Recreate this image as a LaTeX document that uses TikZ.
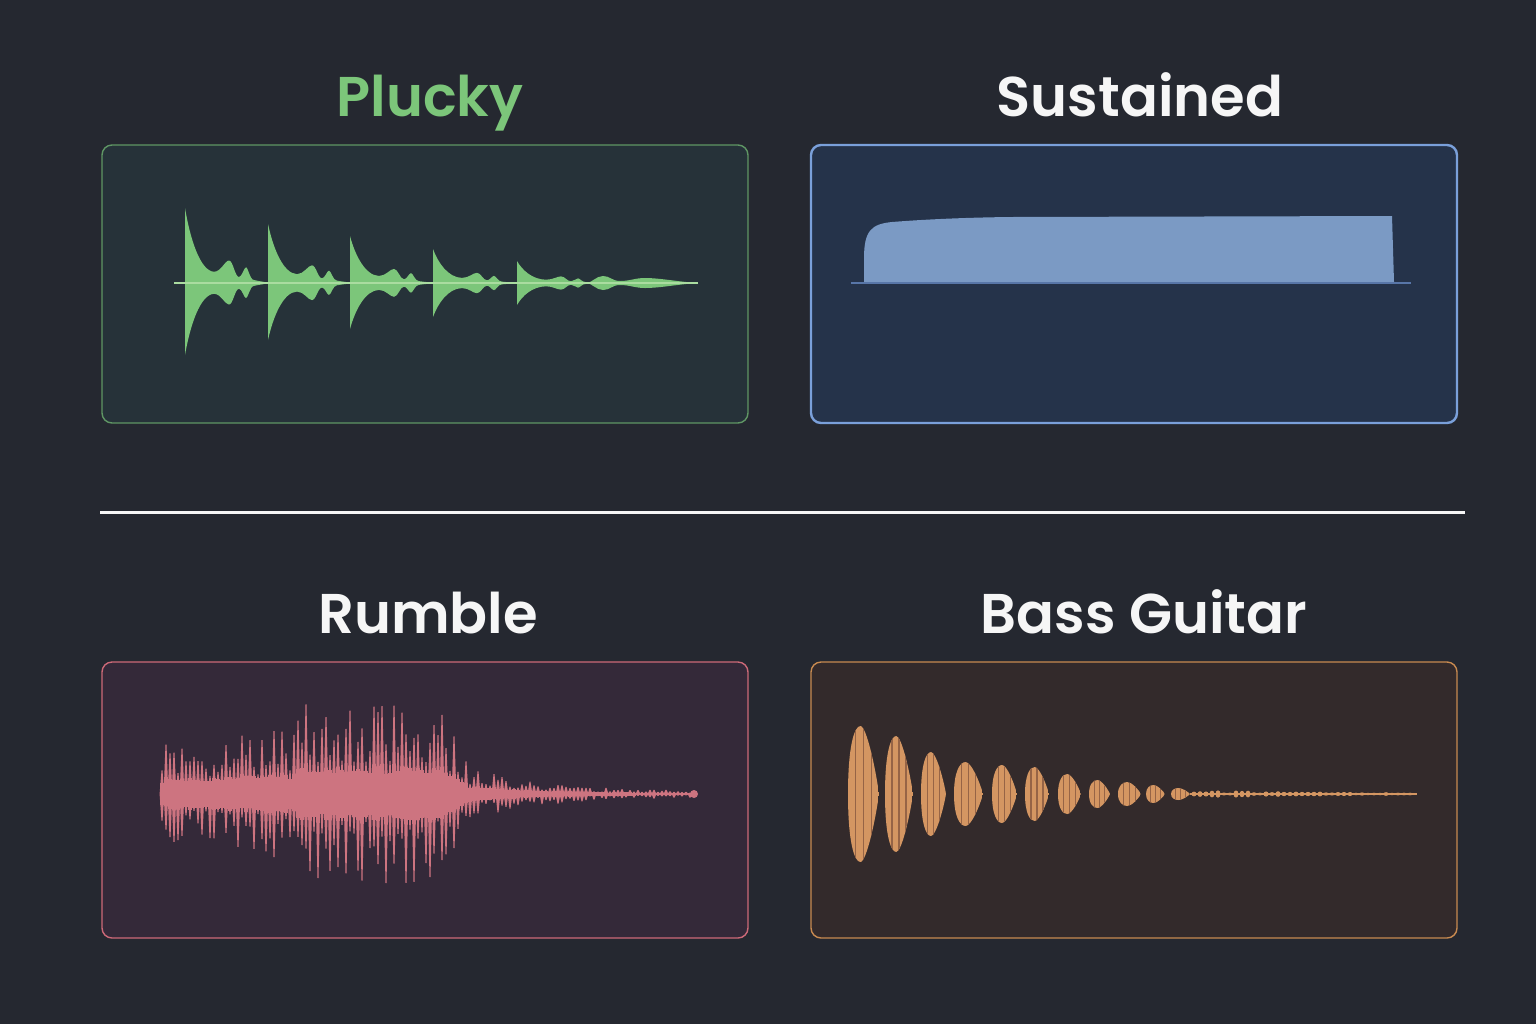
\documentclass[tikz,border=0pt]{standalone}
\usepackage{fontspec}
\setmainfont{Poppins}[BoldFont={Poppins SemiBold}]
\usetikzlibrary{positioning}

\definecolor{bgdark}{RGB}{37,40,48}
\definecolor{titlewhite}{RGB}{246,246,246}
\definecolor{pluckgreen}{RGB}{124,198,122}
\definecolor{pluckline}{RGB}{170,220,160}
\definecolor{pluckpanel}{RGB}{38,50,57}
\definecolor{pluckedge}{RGB}{95,150,100}
\definecolor{sustblue}{RGB}{123,154,196}
\definecolor{sustbase}{RGB}{88,118,168}
\definecolor{sustpanel}{RGB}{37,51,74}
\definecolor{sustedge}{RGB}{122,160,218}
\definecolor{rumblepink}{RGB}{205,116,128}
\definecolor{rumblepanel}{RGB}{52,41,57}
\definecolor{rumbleedge}{RGB}{205,105,120}
\definecolor{bassorange}{RGB}{212,150,98}
\definecolor{bassstripe}{RGB}{150,100,70}
\definecolor{basspanel}{RGB}{51,42,43}
\definecolor{bassedge}{RGB}{200,138,80}

\tikzset{
  panel/.style={rounded corners=5pt, line width=0.7pt},
  title/.style={font=\fontsize{28}{34}\selectfont\bfseries, text=titlewhite, anchor=base},
}

% one decaying pluck, upper half, height 1
\def\pluckshape{(0,0) -- (0,-1) .. controls (5,-0.6) and (15,-0.16) .. (29,-0.15)
  .. controls (36,-0.15) and (40,-0.3) .. (44,-0.3) .. controls (48,-0.3) and (50,-0.08) .. (54,-0.08)
  .. controls (57,-0.08) and (59,-0.21) .. (61,-0.21) .. controls (63,-0.21) and (65,-0.04) .. (69,-0.04)
  .. controls (75,-0.02) and (79,-0.02) .. (83,0) -- cycle}
\def\plucktail{(0,0) .. controls (6,0) and (10,-7) .. (17,-7) .. controls (24,-7) and (26,-2) .. (34,-2)
  .. controls (44,-2) and (49,-5) .. (59,-5) .. controls (74,-5) and (94,-1) .. (112,0) -- cycle}

\begin{document}
\begin{tikzpicture}[x=0.5pt, y=-0.5pt]
    \fill[bgdark] (0,0) rectangle (1536,1024);
    \useasboundingbox (0,0) rectangle (1536,1024);

    % panels
    \draw[panel, fill=pluckpanel, draw=pluckedge] (102,145) rectangle (748,423);
    \draw[panel, fill=sustpanel, draw=sustedge, line width=1.2pt] (811,145) rectangle (1457,423);
    \draw[panel, fill=rumblepanel, draw=rumbleedge] (102,662) rectangle (748,938);
    \draw[panel, fill=basspanel, draw=bassedge] (811,662) rectangle (1457,938);

    % titles
    \node[title, text=pluckgreen] (plucky) at (430,116) {Plucky};
    \node[title] (sustained) at (1140,116) {Sustained};
    \node[title] (rumble) at (428,633) {Rumble};
    \node[title] (bass) at (1144,633) {Bass Guitar};

    % divider
    \coordinate (divl) at (100,512);
    \coordinate (divr) at (1465,512);
    \draw[titlewhite, line width=1.5pt] (divl) -- (divr);

    % plucky
    \foreach \px/\pu/\pd in {185/75/72, 268/59/57, 350/47/46, 433/34/34, 517/22/22}{
      \begin{scope}[shift={(\px,283)}, yscale=\pu]
        \fill[pluckgreen] \pluckshape;
      \end{scope}
      \begin{scope}[shift={(\px,283)}, yscale=-\pd]
        \fill[pluckgreen] \pluckshape;
      \end{scope}
    }
    \begin{scope}[shift={(586,283)}]
      \fill[pluckgreen] \plucktail;
      \fill[pluckgreen, yscale=-1] \plucktail;
    \end{scope}
    \draw[pluckline, line width=0.6pt] (174,283) -- (698,283);

    % sustained
    \fill[sustblue] (864,282) -- (864,258) .. controls (864,230) and (872,224) .. (892,222)
      .. controls (930,219) and (970,217.5) .. (1010,217) -- (1392,216) -- (1394,282) -- cycle;
    \draw[sustbase, line width=1.2pt] (851,283) -- (1411,283);

    % rumble
    \pgfmathsetseed{42}
    \foreach \x in {162,166,...,690}{
      \pgfmathsetmacro\env{\x<295 ? 50+(\x-160)*0.12 : (\x<440 ? 90 : (\x<470 ? 90-(\x-440)*2.2 : 24*exp(-(\x-470)/70)+3))}
      \pgfmathsetmacro\up{\env*(0.3+0.7*rnd)}
      \pgfmathsetmacro\dn{\env*(0.3+0.7*rnd)}
      \pgfmathsetmacro\core{\env*(0.22+0.08*rnd)}
      \fill[rumblepink] (\x-2.4,794) -- (\x-0.5,794-\up) -- (\x+0.5,794-\up) -- (\x+2.4,794)
        -- (\x+0.5,794+\dn) -- (\x-0.5,794+\dn) -- cycle;
      \fill[rumblepink] (\x-2.1,794-\core) rectangle (\x+2.1,794+\core);
    }
    \fill[rumblepink] (694,794) circle (4);

    % bass guitar
    \foreach \l/\r/\a in {848/879/68, 885/913/58, 921/946/42, 954/983/32, 992/1017/29, 1025/1049/27,
        1058/1081/20, 1089/1110/14, 1118/1141/12, 1146/1165/9, 1171/1190/6}{
      \pgfmathsetmacro\w{\r-\l}
      \pgfmathsetmacro\p{\l+0.4*\w}
      \begin{scope}
        \clip (\l,794) .. controls (\l,794-0.7*\a) and (\p-0.2*\w,794-\a) .. (\p,794-\a)
          .. controls (\p+0.2*\w,794-\a) and (\r-0.1*\w,794-0.35*\a) .. (\r,794)
          .. controls (\r-0.1*\w,794+0.35*\a) and (\p+0.2*\w,794+\a) .. (\p,794+\a)
          .. controls (\p-0.2*\w,794+\a) and (\l,794+0.7*\a) .. (\l,794) -- cycle;
        \fill[bassorange] (\l,700) rectangle (\r,890);
        \foreach \k in {1,...,3}
          \draw[bassstripe, line width=0.6pt] ({\l+\w*\k/4},700) -- ({\l+\w*\k/4},890);
      \end{scope}
    }
    \draw[bassorange, line width=0.9pt] (1190,794) -- (1417,794);
    \foreach \x in {1194,1200,...,1410}{
      \pgfmathsetmacro\h{1.2+3*rnd*(1-(\x-1190)/250)}
      \fill[bassorange] (\x,794) ellipse (2.5 and \h);
    }
\end{tikzpicture}
\end{document}
